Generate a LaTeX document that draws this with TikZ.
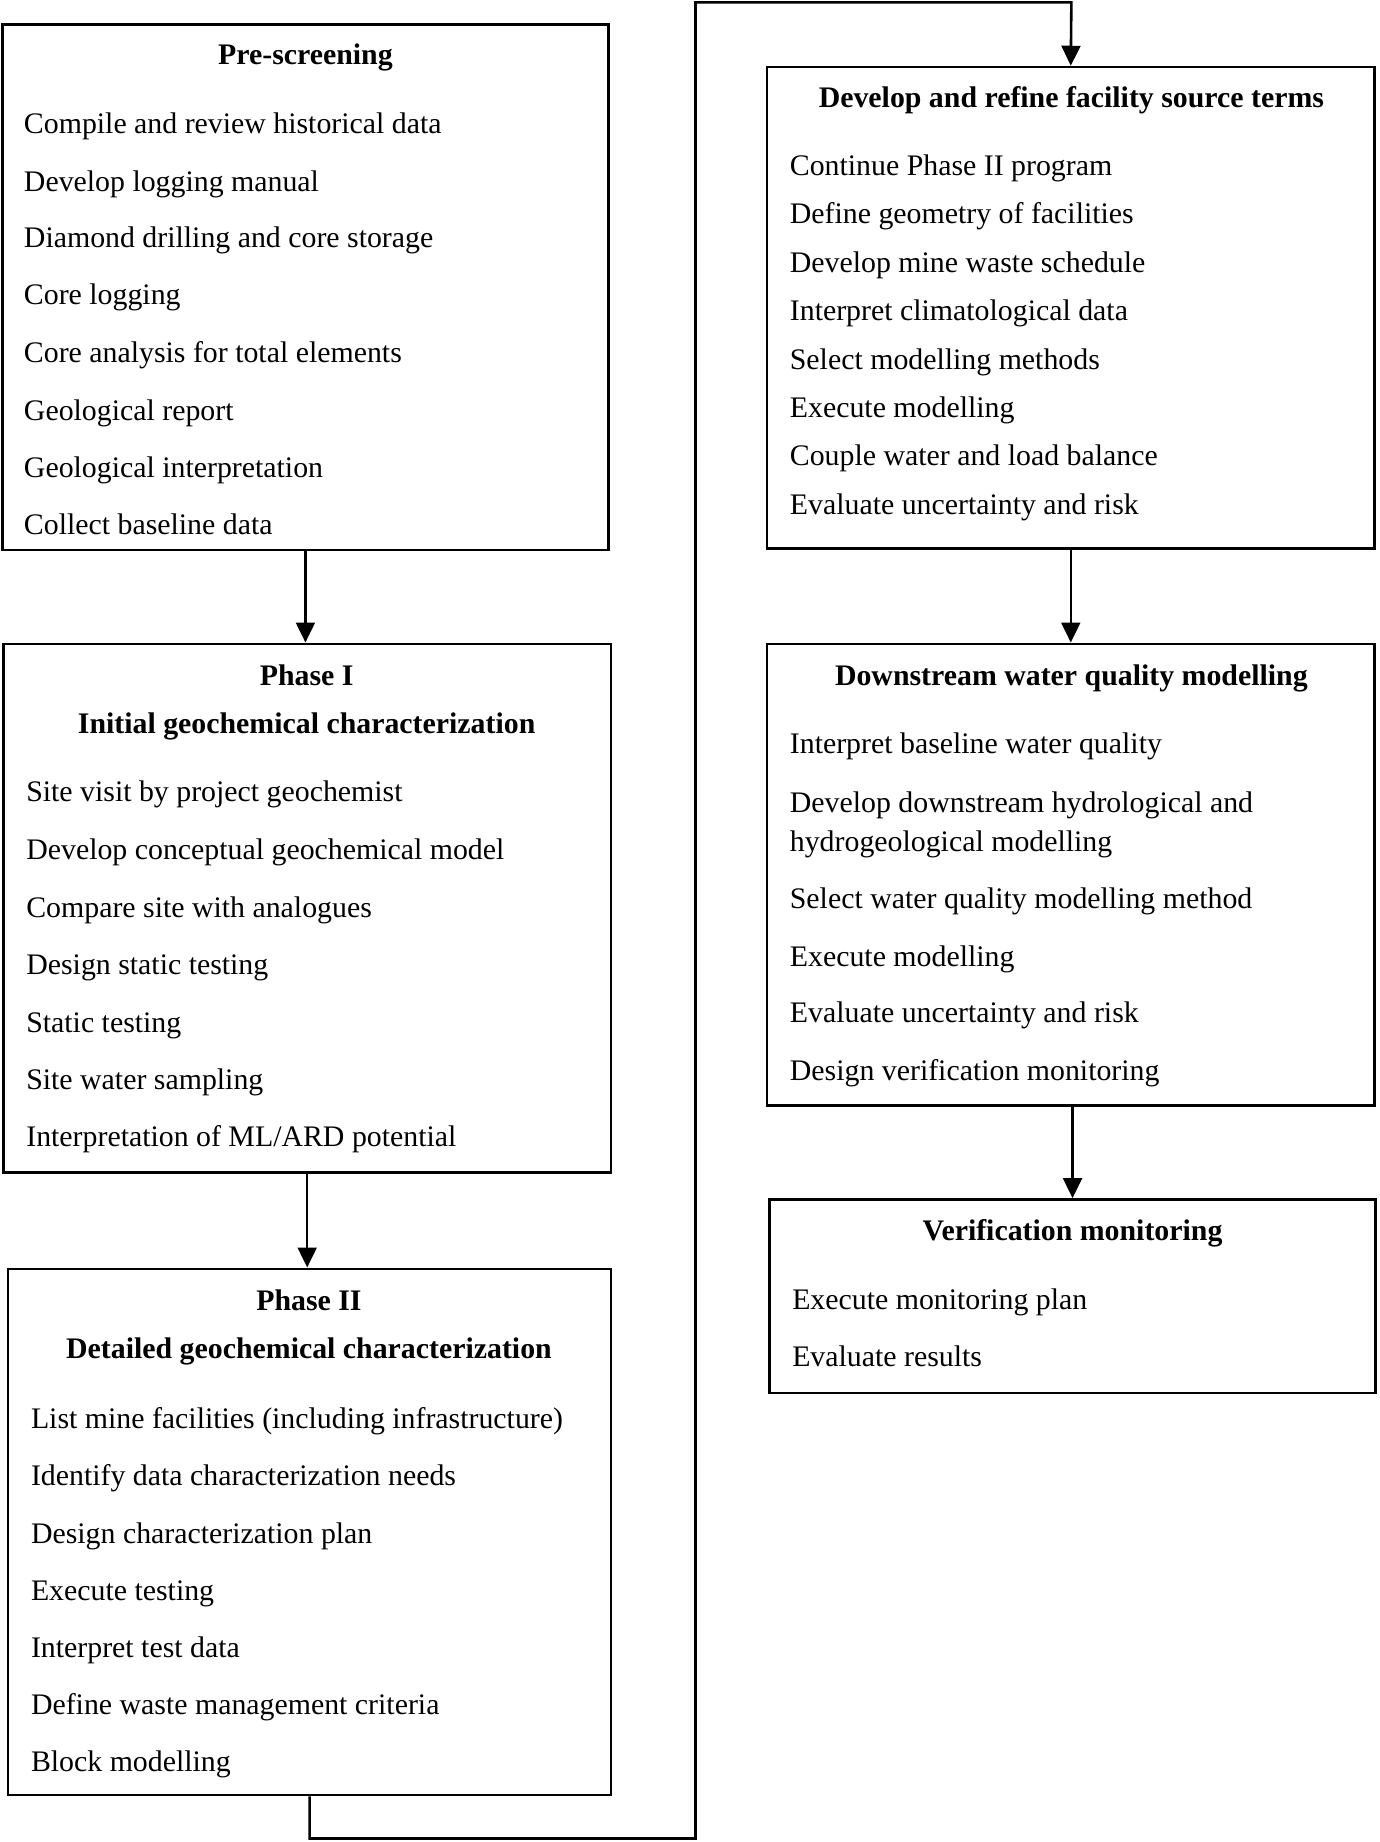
\documentclass[tikz,border=0pt]{standalone}
\usepackage{fontspec}
\setmainfont{Liberation Serif}
\usetikzlibrary{arrows.meta}
\newcommand\mkbox[5]{\node[box, minimum width={(#4-#2)*0.5pt}, minimum height={(#5-#3)*0.5pt}] (#1) at ({(#2+#4)/2},{(#3+#5)/2}) {};}
\begin{document}
\begin{tikzpicture}[x=0.5pt,y=-0.5pt,
  box/.style={draw, line width=1.05pt, inner sep=0pt},
  item/.style={anchor=west, inner sep=0pt, yshift=-1pt, text height=0.66em, text depth=0pt, font=\fontsize{12.7}{15}\selectfont},
  ttl/.style={anchor=center, inner sep=0pt, yshift=-1pt, text height=0.66em, text depth=0pt, font=\fontsize{12.7}{15}\selectfont\bfseries},
  conn/.style={line width=1.1pt},
  arr/.style={conn, -{Triangle[length=8.5pt,width=8pt]}}
]
\useasboundingbox (0,0) rectangle (1174,1568);

% boxes
\mkbox{A}{2}{21}{518}{468}
\mkbox{B}{3}{548}{520}{998}
\mkbox{C}{7}{1080}{520}{1528}
\mkbox{D}{653}{57}{1170}{467}
\mkbox{E}{653}{548}{1170}{941}
\mkbox{F}{655}{1021}{1171}{1186}

% Box A
\node[ttl] (a0) at (260,46) {Pre-screening};
\node[item] (a1) at (20,105) {Compile and review historical data};
\node[item] (a2) at (20,154) {Develop logging manual};
\node[item] (a3) at (20,202) {Diamond drilling and core storage};
\node[item] (a4) at (20,251) {Core logging};
\node[item] (a5) at (20,300) {Core analysis for total elements};
\node[item] (a6) at (20,349) {Geological report};
\node[item] (a7) at (20,398) {Geological interpretation};
\node[item] (a8) at (20,446) {Collect baseline data};

% Box B
\node[ttl] (b0) at (261,575) {Phase I};
\node[ttl] (b00) at (261,616) {Initial geochemical characterization};
\node[item] (b1) at (22,674) {Site visit by project geochemist};
\node[item] (b2) at (22,723) {Develop conceptual geochemical model};
\node[item] (b3) at (22,772) {Compare site with analogues};
\node[item] (b4) at (22,821) {Design static testing};
\node[item] (b5) at (22,870) {Static testing};
\node[item] (b6) at (22,919) {Site water sampling};
\node[item] (b7) at (22,967) {Interpretation of ML/ARD potential};

% Box C
\node[ttl] (c0) at (263,1107) {Phase II};
\node[ttl] (c00) at (263,1148) {Detailed geochemical characterization};
\node[item] (c1) at (26,1207) {List mine facilities (including infrastructure)};
\node[item] (c2) at (26,1256) {Identify data characterization needs};
\node[item] (c3) at (26,1305) {Design characterization plan};
\node[item] (c4) at (26,1354) {Execute testing};
\node[item] (c5) at (26,1402) {Interpret test data};
\node[item] (c6) at (26,1451) {Define waste management criteria};
\node[item] (c7) at (26,1499) {Block modelling};

% Box D
\node[ttl] (d0) at (912,83) {Develop and refine facility source terms};
\node[item] (d1) at (672,141) {Continue Phase II program};
\node[item] (d2) at (672,182) {Define geometry of facilities};
\node[item] (d3) at (672,223) {Develop mine waste schedule};
\node[item] (d4) at (672,264) {Interpret climatological data};
\node[item] (d5) at (672,306) {Select modelling methods};
\node[item] (d6) at (672,347) {Execute modelling};
\node[item] (d7) at (672,388) {Couple water and load balance};
\node[item] (d8) at (672,429) {Evaluate uncertainty and risk};

% Box E
\node[ttl] (e0) at (912,575) {Downstream water quality modelling};
\node[item] (e1) at (672,633) {Interpret baseline water quality};
\node[item] (e2) at (672,683) {Develop downstream hydrological and};
\node[item] (e2b) at (672,716) {hydrogeological modelling};
\node[item] (e3) at (672,765) {Select water quality modelling method};
\node[item] (e4) at (672,814) {Execute modelling};
\node[item] (e5) at (672,862) {Evaluate uncertainty and risk};
\node[item] (e6) at (672,911) {Design verification monitoring};

% Box F
\node[ttl] (f0) at (913,1047) {Verification monitoring};
\node[item] (f1) at (674,1106) {Execute monitoring plan};
\node[item] (f2) at (674,1155) {Evaluate results};

% connectors
\coordinate (k1) at (262,1565);
\coordinate (k2) at (592,1565);
\coordinate (k3) at (592,2);
\coordinate (k4) at (912,2);
\draw[arr] (A.south) -- (A.south |- B.north);
\draw[arr] (B.south) -- (B.south |- C.north);
\draw[arr] (C.south) |- (k2) -- (k3) -- (k4) -- (D.north);
\draw[arr] (D.south) -- (E.north);
\draw[arr] (F.north |- E.south) -- (F.north);
\end{tikzpicture}
\end{document}
